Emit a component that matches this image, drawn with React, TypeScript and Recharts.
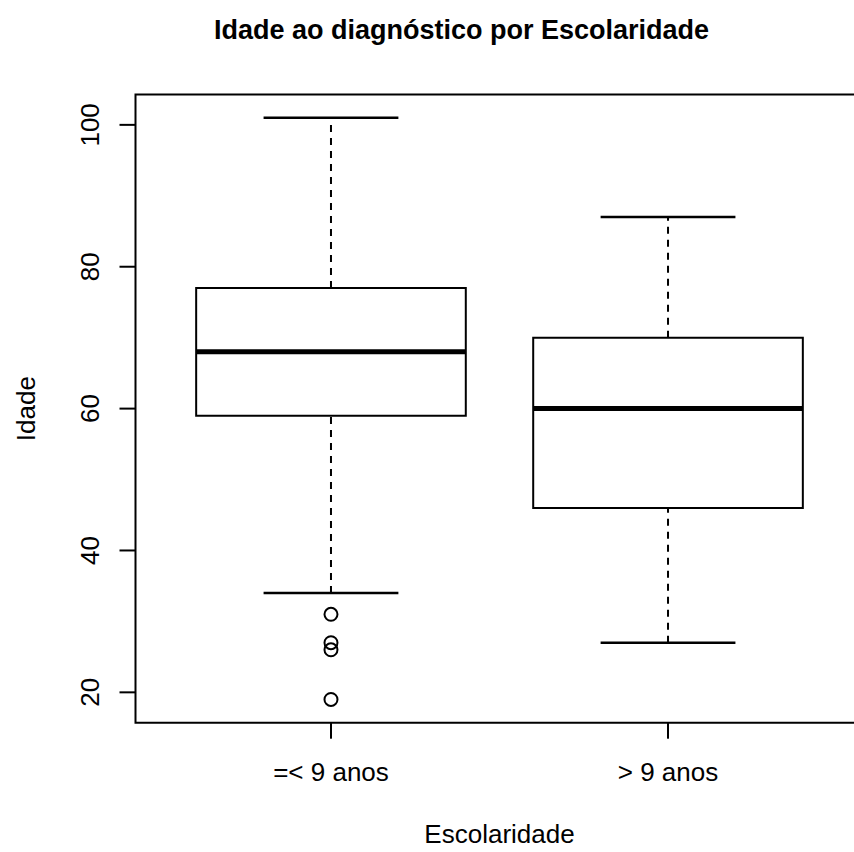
import { ComposedChart, XAxis, YAxis, Scatter, ReferenceArea, ReferenceLine } from "recharts"

const categories = ["=< 9 anos", "> 9 anos"]
const whiskerLow = [34, 27]
const q1 = [59, 46]
const median = [68, 60]
const q3 = [77, 70]
const whiskerHigh = [101, 87]
const outlierGroup = [1, 1, 1, 1]
const outlierValues = [31, 27, 26, 19]
const yTicks = [20, 40, 60, 80, 100]

const font = "'Liberation Sans', Arial, Helvetica, sans-serif"

// R-style axis limits: 4% padding on the data range
const allValues = [...whiskerLow, ...whiskerHigh, ...outlierValues]
const dMin = Math.min(...allValues)
const dMax = Math.max(...allValues)
const yDomain = [dMin - 0.04 * (dMax - dMin), dMax + 0.04 * (dMax - dMin)]
const xDomain = [0.5 - 0.04 * categories.length, categories.length + 0.5 + 0.04 * categories.length]

const outliers = outlierValues.map((v, i) => ({ x: outlierGroup[i], y: v }))

const BOX_HALF = 0.4
const CAP_HALF = 0.2

function YTick({ x, y, payload }: any) {
  return (
    <text x={x} y={y} transform={`rotate(-90, ${x}, ${y})`} textAnchor="middle" fontSize={26} fontFamily={font} fill="#000">
      {payload.value}
    </text>
  )
}

function XTick({ x, y, payload }: any) {
  return (
    <text x={x} y={y} dy="0.71em" textAnchor="middle" fontSize={26} fontFamily={font} fill="#000">
      {categories[payload.value - 1]}
    </text>
  )
}

function OutlierDot({ cx, cy }: any) {
  return <circle cx={cx} cy={cy} r={6.5} fill="none" stroke="#000" strokeWidth={2} />
}

export default function App() {
  return (
    <div style={{ position: "fixed", left: 0, top: 0, width: 854, height: 852, overflow: "hidden", background: "#fff" }}>
      <svg width={854} height={70} style={{ position: "absolute", left: 0, top: 0 }}>
        <text x={461.5} y={38.5} textAnchor="middle" fontSize={27} fontWeight="bold" fontFamily={font} fill="#000">
          Idade ao diagnóstico por Escolaridade
        </text>
      </svg>
      <ComposedChart width={900} height={852} margin={{ top: 94.5, right: 36.5, bottom: 69.3, left: 75.5 }}>
        <XAxis
          type="number"
          dataKey="x"
          domain={xDomain}
          ticks={[1, 2]}
          allowDataOverflow
          height={60}
          axisLine={false}
          tickSize={16}
          tickMargin={24.3}
          tickLine={{ stroke: "#000", strokeWidth: 2 }}
          tick={<XTick />}
          label={{
            content: ({ viewBox }: any) => (
              <text x={viewBox.x + viewBox.width / 2} y={843} textAnchor="middle" fontSize={26} fontFamily={font} fill="#000">
                Escolaridade
              </text>
            ),
          }}
        />
        <YAxis
          type="number"
          dataKey="y"
          domain={yDomain}
          ticks={yTicks}
          allowDataOverflow
          width={60}
          axisLine={false}
          tickSize={16}
          tickMargin={20.5}
          tickLine={{ stroke: "#000", strokeWidth: 2 }}
          tick={<YTick />}
          label={{
            content: ({ viewBox }: any) => {
              const cy = viewBox.y + viewBox.height / 2
              return (
                <text x={35} y={cy} transform={`rotate(-90, 35, ${cy})`} textAnchor="middle" fontSize={26} fontFamily={font} fill="#000">
                  Idade
                </text>
              )
            },
          }}
        />

        {categories.map((c, i) => (
          <ReferenceLine
            key={`wu-${c}`}
            segment={[{ x: i + 1, y: q3[i] }, { x: i + 1, y: whiskerHigh[i] }]}
            stroke="#000"
            strokeWidth={2}
            strokeDasharray="7 6"
          />
        ))}
        {categories.map((c, i) => (
          <ReferenceLine
            key={`wl-${c}`}
            segment={[{ x: i + 1, y: whiskerLow[i] }, { x: i + 1, y: q1[i] }]}
            stroke="#000"
            strokeWidth={2}
            strokeDasharray="7 6"
          />
        ))}
        {categories.map((c, i) => (
          <ReferenceLine
            key={`cu-${c}`}
            segment={[{ x: i + 1 - CAP_HALF, y: whiskerHigh[i] }, { x: i + 1 + CAP_HALF, y: whiskerHigh[i] }]}
            stroke="#000"
            strokeWidth={2.5}
          />
        ))}
        {categories.map((c, i) => (
          <ReferenceLine
            key={`cl-${c}`}
            segment={[{ x: i + 1 - CAP_HALF, y: whiskerLow[i] }, { x: i + 1 + CAP_HALF, y: whiskerLow[i] }]}
            stroke="#000"
            strokeWidth={2.5}
          />
        ))}
        {categories.map((c, i) => (
          <ReferenceArea
            key={`box-${c}`}
            x1={i + 1 - BOX_HALF}
            x2={i + 1 + BOX_HALF}
            y1={q1[i]}
            y2={q3[i]}
            fill="#fff"
            fillOpacity={1}
            stroke="#000"
            strokeWidth={2}
          />
        ))}
        {categories.map((c, i) => (
          <ReferenceLine
            key={`med-${c}`}
            segment={[{ x: i + 1 - BOX_HALF, y: median[i] }, { x: i + 1 + BOX_HALF, y: median[i] }]}
            stroke="#000"
            strokeWidth={5}
          />
        ))}
        <ReferenceArea
          x1={xDomain[0]}
          x2={xDomain[1]}
          y1={yDomain[0]}
          y2={yDomain[1]}
          fill="none"
          stroke="#000"
          strokeWidth={2}
          ifOverflow="visible"
        />
        <Scatter data={outliers} dataKey="y" isAnimationActive={false} shape={<OutlierDot />} />
      </ComposedChart>
    </div>
  )
}
